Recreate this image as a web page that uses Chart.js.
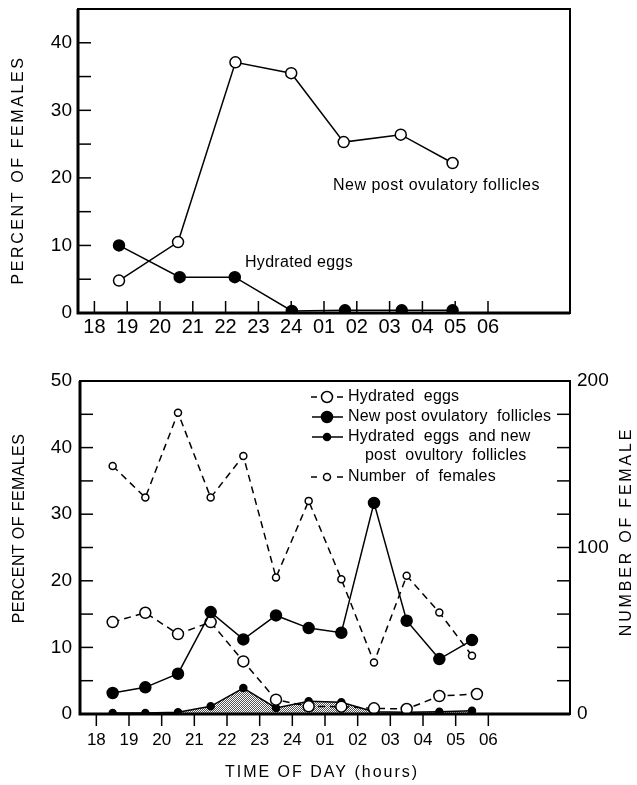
<!DOCTYPE html>
<html>
<head>
<meta charset="utf-8">
<style>
  html, body { margin: 0; padding: 0; background: #fff; }
  #wrap { position: relative; width: 637px; height: 785px; }
  #top { position: absolute; left: 0; top: 0; }
  #bot { position: absolute; left: 0; top: 345px; }
</style>
<script src="https://cdn.jsdelivr.net/npm/chart.js@4.4.1/dist/chart.umd.min.js"></script>
</head>
<body>
<div id="wrap">
  <canvas id="top" width="637" height="345"></canvas>
  <canvas id="bot" width="637" height="440"></canvas>
</div>
<script>
// hour axis shared by both panels
const hourTicks = [18, 19, 20, 21, 22, 23, 24, 25, 26, 27, 28, 29, 30];
const hourLabels = ['18', '19', '20', '21', '22', '23', '24', '01', '02', '03', '04', '05', '06'];

// upper panel
const topPofHours = [18.75, 20.55, 22.3, 24.0, 25.6, 27.34, 28.92];
const topPofPct = [4.8, 10.5, 37.1, 35.5, 25.3, 26.4, 22.2];
const topHydHours = [18.75, 20.6, 22.28, 24.02, 25.64, 27.37, 28.92];
const topHydPct = [10.0, 5.3, 5.3, 0.3, 0.4, 0.4, 0.4];

// lower panel
const botHours = [18.5, 19.5, 20.5, 21.5, 22.5, 23.5, 24.5, 25.5, 26.5, 27.5, 28.5, 29.5];
const botHydHours = [18.5, 19.5, 20.5, 21.5, 22.5, 23.5, 24.5, 25.5, 26.5, 27.5, 28.5, 29.65];
const botHydPct = [13.8, 15.2, 12.0, 13.8, 7.9, 2.15, 1.15, 1.1, 0.85, 0.75, 2.7, 3.0];
const botPofPct = [3.15, 4.0, 6.05, 15.3, 11.2, 14.8, 12.9, 12.2, 31.7, 14.0, 8.25, 11.1];
const botBothPct = [0.15, 0.15, 0.25, 1.15, 3.9, 0.9, 1.9, 1.75, 0.35, 0.25, 0.35, 0.5];
const femaleCount = [149, 130, 181, 130, 155, 82, 128, 81, 31, 83, 61, 35];

const FONT = '"Liberation Sans", Arial, sans-serif';

const pts = (xs, ys) => xs.map((x, i) => ({ x, y: ys[i] }));
const hourLabel = (v) => { const i = hourTicks.indexOf(v); return i < 0 ? '' : hourLabels[i]; };

// stipple for the shaded area
function stipple() {
  const c = document.createElement('canvas');
  c.width = 2; c.height = 2;
  const g = c.getContext('2d');
  g.fillStyle = '#fff'; g.fillRect(0, 0, 2, 2);
  g.fillStyle = '#555'; g.fillRect(0, 0, 1, 1); g.fillRect(1, 1, 1, 1);
  return g.createPattern(c, 'repeat');
}

function drawText(ctx, t) {
  ctx.save();
  ctx.font = `${t.size || 16}px ${FONT}`;
  ctx.letterSpacing = `${t.spacing || 0}px`;
  ctx.fillStyle = '#000';
  ctx.textAlign = t.align || 'left';
  ctx.textBaseline = 'middle';
  ctx.translate(t.x, t.y);
  if (t.rot) ctx.rotate(t.rot);
  ctx.fillText(t.text, 0, 0);
  ctx.restore();
}

function marker(ctx, x, y, r, filled) {
  ctx.beginPath();
  ctx.arc(x, y, r, 0, Math.PI * 2);
  ctx.fillStyle = filled ? '#000' : '#fff';
  ctx.fill();
  ctx.lineWidth = 1.5;
  ctx.stroke();
}

// frame, inward/outward tick marks, titles, notes and legend
const frame = {
  id: 'frame',
  afterDraw(chart, args, opts) {
    const ctx = chart.ctx;
    const a = chart.chartArea;
    ctx.save();
    ctx.strokeStyle = '#000';
    ctx.lineWidth = 2;
    ctx.strokeRect(a.left, a.top, a.right - a.left, a.bottom - a.top);
    ctx.lineWidth = 3;
    ctx.beginPath();
    ctx.moveTo(a.left, a.top); ctx.lineTo(a.left, a.bottom); ctx.lineTo(a.right, a.bottom);
    ctx.stroke();

    ctx.lineWidth = 1.5;
    Object.values(chart.scales).forEach((s) => {
      const len = opts.tickLen[s.id];
      if (!len) return;
      s.ticks.forEach((t) => {
        const p = s.getPixelForValue(t.value);
        ctx.beginPath();
        if (s.axis === 'x') {
          ctx.moveTo(p, a.bottom); ctx.lineTo(p, a.bottom + len);
        } else if (s.position === 'left') {
          ctx.moveTo(a.left, p); ctx.lineTo(a.left + len, p);
        } else {
          ctx.moveTo(a.right, p); ctx.lineTo(a.right - len, p);
        }
        ctx.stroke();
      });
    });

    (opts.texts || []).forEach((t) => drawText(ctx, t));

    (opts.legend || []).forEach((l) => {
      ctx.strokeStyle = '#000';
      ctx.lineWidth = 1.5;
      if (l.kind) {
        const mid = 327;
        ctx.beginPath();
        if (l.dash) {
          ctx.moveTo(311, l.y); ctx.lineTo(317, l.y);
          ctx.moveTo(337, l.y); ctx.lineTo(343, l.y);
        } else {
          ctx.moveTo(312, l.y); ctx.lineTo(343, l.y);
        }
        ctx.stroke();
        marker(ctx, mid, l.y, l.r, l.filled);
      }
      drawText(ctx, { text: l.text, x: l.tx || 348, y: l.y, size: 16, spacing: 0.2 });
    });
    ctx.restore();
  }
};

function xScale(labelSize, pad, height) {
  return {
    type: 'linear', min: 17.5, max: 32.5,
    grid: { display: false, drawTicks: false },
    border: { display: false },
    afterBuildTicks: (s) => { s.ticks = hourTicks.map((v) => ({ value: v })); },
    afterFit: (s) => { s.height = height; s.paddingLeft = 0; s.paddingRight = 0; },
    ticks: {
      autoSkip: false, maxRotation: 0, padding: pad, color: '#000',
      font: { family: FONT, size: labelSize },
      callback: (v) => hourLabel(v)
    }
  };
}

function yScale(pos, max, step, every, width, pad) {
  return {
    type: 'linear', position: pos, min: 0, max: max,
    grid: { display: false, drawTicks: false },
    border: { display: false },
    afterFit: (s) => { s.width = width; s.paddingTop = 0; s.paddingBottom = 0; },
    ticks: {
      stepSize: step, padding: pad, color: '#000',
      font: { family: FONT, size: 19, lineHeight: 1 },
      callback: (v) => (v % every === 0 ? String(v) : '')
    }
  };
}

const lineBase = { borderColor: '#000', borderWidth: 1.5, tension: 0, pointBorderColor: '#000', pointBorderWidth: 1.5 };

new Chart(document.getElementById('top'), {
  type: 'line',
  data: {
    datasets: [
      { ...lineBase, data: pts(topPofHours, topPofPct), pointRadius: 5.5, pointBackgroundColor: '#fff' },
      { ...lineBase, data: pts(topHydHours, topHydPct), pointRadius: 5.5, pointBackgroundColor: '#000' }
    ]
  },
  options: {
    responsive: false, animation: false, events: [],
    layout: { padding: { top: 9, right: 67, left: 0, bottom: 0 } },
    plugins: {
      legend: { display: false }, tooltip: { enabled: false },
      frame: {
        tickLen: { x: -12, y: 13 },
        texts: [
          { text: 'New post ovulatory follicles', x: 333, y: 186, size: 16, spacing: 0.5 },
          { text: 'Hydrated eggs', x: 245, y: 263, size: 16, spacing: 0.3 },
          { text: 'PERCENT OF FEMALES', x: 19, y: 170, size: 16, spacing: 2.6, rot: -Math.PI / 2, align: 'center' }
        ]
      }
    },
    scales: { x: xScale(20, 2, 32), y: yScale('left', 45, 5, 10, 78, 6) }
  },
  plugins: [frame]
});

new Chart(document.getElementById('bot'), {
  type: 'line',
  data: {
    datasets: [
      { ...lineBase, data: pts(botHours, botBothPct), pointRadius: 3.5, pointBackgroundColor: '#000',
        fill: 'origin', backgroundColor: stipple(), order: 4 },
      { ...lineBase, data: pts(botHydHours, botHydPct), pointRadius: 5.5, pointBackgroundColor: '#fff',
        borderDash: [7, 5], order: 3 },
      { ...lineBase, data: pts(botHours, botPofPct), pointRadius: 5.5, pointBackgroundColor: '#000', order: 2 },
      { ...lineBase, data: pts(botHours, femaleCount), yAxisID: 'y1', pointRadius: 3.5, pointBackgroundColor: '#fff',
        borderDash: [7, 5], order: 1 }
    ]
  },
  options: {
    responsive: false, animation: false, events: [],
    layout: { padding: { top: 36, right: 0, left: 0, bottom: 0 } },
    plugins: {
      legend: { display: false }, tooltip: { enabled: false },
      frame: {
        tickLen: { x: 12, y: 13, y1: 13 },
        texts: [
          { text: 'PERCENT OF FEMALES', x: 20, y: 183.5, size: 16, spacing: 0.4, rot: -Math.PI / 2, align: 'center' },
          { text: 'NUMBER OF FEMALE', x: 627, y: 186.5, size: 16, spacing: 2.8, rot: -Math.PI / 2, align: 'center' },
          { text: 'TIME OF DAY (hours)', x: 322, y: 428, size: 16, spacing: 2, align: 'center' }
        ],
        legend: [
          { y: 52, kind: 1, dash: true, r: 5.5, filled: false, text: 'Hydrated  eggs' },
          { y: 72, kind: 1, dash: false, r: 5.5, filled: true, text: 'New post ovulatory  follicles' },
          { y: 92, kind: 1, dash: false, r: 3.5, filled: true, text: 'Hydrated  eggs  and new' },
          { y: 111, text: 'post  ovultory  follicles', tx: 365 },
          { y: 132, kind: 1, dash: true, r: 3.5, filled: false, text: 'Number  of  females' }
        ]
      }
    },
    scales: {
      x: xScale(17, 16, 71),
      y: yScale('left', 50, 5, 10, 80, 8),
      y1: yScale('right', 200, 20, 100, 67, 7)
    }
  },
  plugins: [frame]
});
</script>
</body>
</html>
